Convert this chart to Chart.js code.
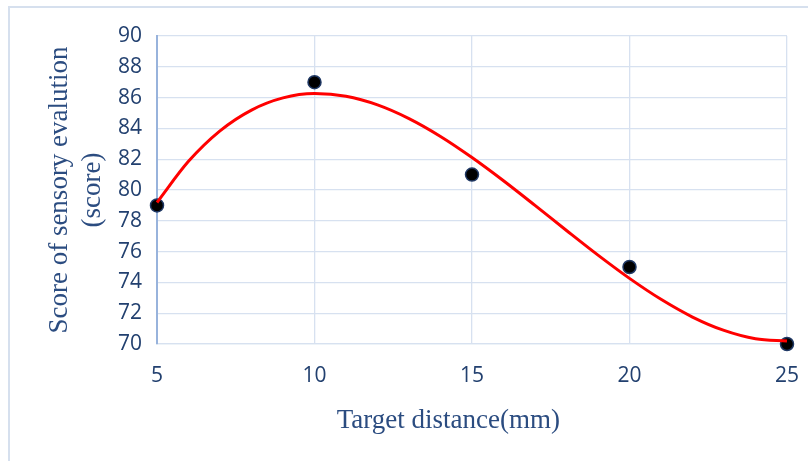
<!DOCTYPE html>
<html>
<head>
<meta charset="utf-8">
<script src="https://cdn.jsdelivr.net/npm/chart.js@4.4.1/dist/chart.umd.min.js"></script>
<style>
  html, body { margin: 0; padding: 0; background: #ffffff; }
  #wrap { width: 808px; height: 461px; position: relative; }
</style>
</head>
<body>
<div id="wrap"><canvas id="c" width="808" height="461"></canvas></div>
<script>
// Measured sensory scores
const distances = [5, 10, 15, 20, 25];
const scores = [79, 87, 81, 75, 70];
// Trend curve
const trendX = [5, 6, 7, 8, 9, 10, 11, 12, 13, 14, 15, 16, 17, 18, 19, 20, 21, 22, 23, 24, 25];
const trendY = [79.19, 81.86, 83.84, 85.19, 85.98, 86.26, 86.09, 85.53, 84.64, 83.48, 82.11,
                80.60, 79.00, 77.37, 75.77, 74.26, 72.90, 71.75, 70.88, 70.34, 70.19];
const xTitle = 'Target distance(mm)';
const yTitle = ['Score of sensory evalution', '(score)'];

const pointData = distances.map((x, i) => ({ x: x, y: scores[i] }));
const trendData = trendX.map((x, i) => ({ x: x, y: trendY[i] }));

const frame = {
  id: 'frame',
  beforeDraw(chart) {
    const ctx = chart.ctx;
    ctx.save();
    ctx.fillStyle = '#ffffff';
    ctx.fillRect(0, 0, chart.width, chart.height);
    ctx.strokeStyle = '#d6e0ee';
    ctx.lineWidth = 2;
    ctx.strokeRect(9, 7, 820, 480);
    ctx.restore();
  }
};

const tickColor = '#22406f';
const titleColor = '#2b4c80';
const gridColor = '#d7e1f0';
// trailing no-break spaces shift the centred axis title left, as in the reference
const xTitleShift = '\u00A0\u00A0\u00A0\u00A0\u00A0\u00A0\u00A0';

new Chart(document.getElementById('c'), {
  type: 'scatter',
  data: {
    datasets: [
      {
        type: 'line',
        data: trendData,
        borderColor: '#ff0000',
        borderWidth: 3,
        pointRadius: 0,
        fill: false,
        clip: false,
        cubicInterpolationMode: 'monotone',
        showLine: true
      },
      {
        data: pointData,
        backgroundColor: '#000000',
        borderColor: '#1f3864',
        borderWidth: 1.5,
        pointRadius: 6.5,
        clip: false,
        showLine: false
      }
    ]
  },
  options: {
    responsive: false,
    animation: false,
    events: [],
    layout: { padding: { left: 44, top: 36, right: 21, bottom: 0 } },
    plugins: { legend: { display: false }, tooltip: { enabled: false } },
    scales: {
      x: {
        type: 'linear',
        min: 5, max: 25,
        afterFit(scale) { scale.height = 117; scale.paddingRight = 0; scale.paddingLeft = 0; },
        ticks: { stepSize: 5, color: tickColor, padding: 19, font: { family: 'Open Sans', size: 21 } },
        grid: { color: gridColor, lineWidth: 1.3, drawTicks: false },
        border: { color: gridColor, width: 1.3 },
        title: {
          display: true, text: xTitle + xTitleShift, color: titleColor,
          font: { family: 'Liberation Serif', size: 27 },
          padding: { top: 0, bottom: 24 }
        }
      },
      y: {
        type: 'linear',
        min: 70, max: 90,
        afterFit(scale) { scale.width = 113; scale.paddingTop = 0; scale.paddingBottom = 0; },
        ticks: { stepSize: 2, color: tickColor, padding: 15, font: { family: 'Open Sans', size: 21 } },
        grid: { color: gridColor, lineWidth: 1.3, drawTicks: false },
        border: { color: '#98b3dc', width: 2 },
        title: {
          display: true, text: yTitle, color: titleColor,
          font: { family: 'Liberation Serif', size: 27, lineHeight: 1.2 },
          padding: { top: 0, bottom: 0 }
        }
      }
    }
  },
  plugins: [frame]
});
</script>
</body>
</html>
